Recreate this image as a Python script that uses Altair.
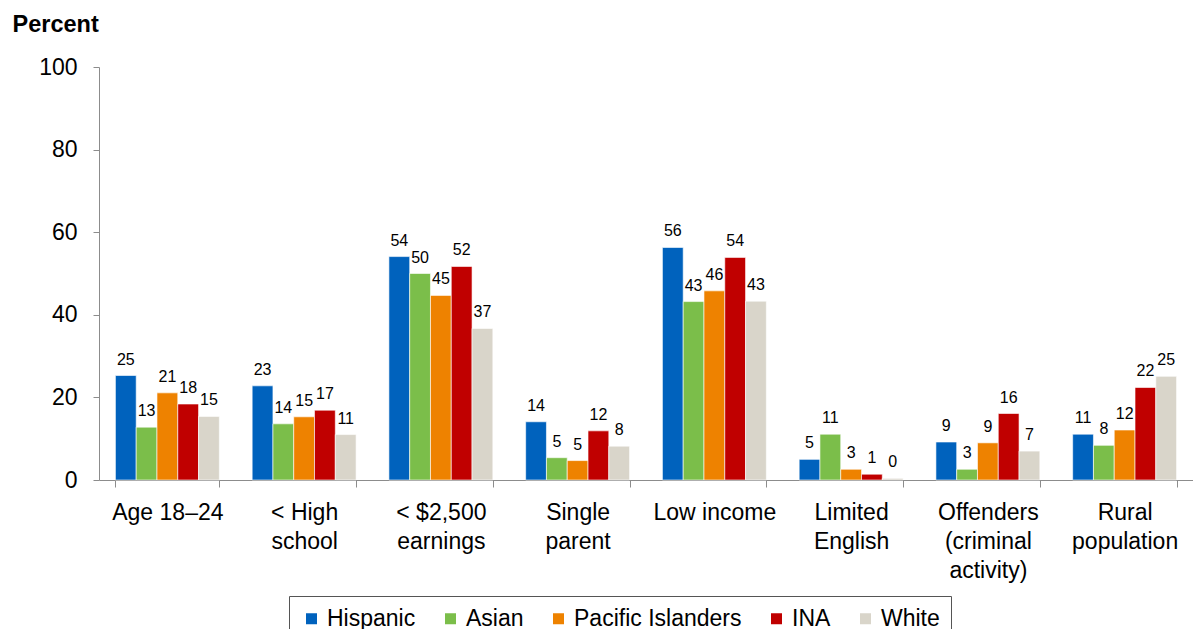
import altair as alt
import pandas as pd

categories = [
    "Age 18–24",
    "< High\nschool",
    "< $2,500\nearnings",
    "Single\nparent",
    "Low income",
    "Limited\nEnglish",
    "Offenders\n(criminal\nactivity)",
    "Rural\npopulation",
]
series = ["Hispanic", "Asian", "Pacific Islanders", "INA", "White"]
colors = ["#0062BD", "#7BBE4A", "#EE8200", "#C00000", "#D9D5CA"]

hispanic = [25.3, 22.8, 54.1, 14.1, 56.3, 5.0, 9.2, 11.1]
asian = [12.8, 13.6, 50.0, 5.4, 43.2, 11.1, 2.6, 8.4]
pacific = [21.1, 15.3, 44.7, 4.7, 45.8, 2.6, 9.0, 12.1]
ina = [18.4, 16.9, 51.7, 11.9, 53.9, 1.4, 16.1, 22.4]
white = [15.4, 11.0, 36.7, 8.2, 43.3, 0.4, 7.0, 25.1]

y_ticks = [0, 20, 40, 60, 80, 100]

rows = []
for name, vals in zip(series, [hispanic, asian, pacific, ina, white]):
    for c, v in zip(categories, vals):
        rows.append({"category": c, "group": name, "value": v})
df = pd.DataFrame(rows)

FONT = "Liberation Sans"

base = alt.Chart(df).encode(
    x=alt.X(
        "category:N",
        sort=categories,
        scale=alt.Scale(paddingInner=0.24, paddingOuter=0.12),
        axis=alt.Axis(
            title=None,
            labelAngle=0,
            labelExpr="split(datum.label, '\\n')",
            labelFontSize=23,
            labelLineHeight=29,
            labelPadding=14,
            labelFont=FONT,
            labelColor="black",
            labelLimit=0,
            tickBand="extent",
            tickSize=7,
            tickColor="#8c8c8c",
            domainColor="#8c8c8c",
            labelBaseline="top",
        ),
    ),
    xOffset=alt.XOffset("group:N", sort=series, scale=alt.Scale(paddingInner=0, paddingOuter=0)),
    y=alt.Y(
        "value:Q",
        scale=alt.Scale(domain=[0, 100], nice=False),
        axis=alt.Axis(
            values=y_ticks,
            grid=False,
            tickSize=6,
            tickColor="#8c8c8c",
            domainColor="#8c8c8c",
            labelPadding=16,
            labelFontSize=23,
            labelFont=FONT,
            labelColor="black",
            title="Percent",
            titleAngle=0,
            titleAlign="left",
            titleBaseline="alphabetic",
            titleX=-87,
            titleY=-36,
            titleFontSize=23.5,
            titleFontWeight="bold",
            titleFont=FONT,
            titleColor="black",
        ),
    ),
)

bars = base.mark_bar(stroke="white", strokeWidth=1, strokeOpacity=0.6).encode(
    color=alt.Color(
        "group:N",
        sort=series,
        scale=alt.Scale(domain=series, range=colors),
        legend=alt.Legend(
            title=None,
            orient="none",
            direction="horizontal",
            legendX=190,
            legendY=529,
            strokeColor="#555555",
            padding=11,
            symbolType="square",
            symbolSize=121,
            symbolStrokeWidth=0,
            labelFontSize=23,
            labelFont=FONT,
            labelColor="black",
            labelOffset=4,
            columnPadding=23,
            labelLimit=0,
        ),
    )
)

labels = base.mark_text(dy=-11, baseline="alphabetic", fontSize=16, font=FONT, color="black").encode(
    text=alt.Text("value:Q", format=".0f")
)

chart = (
    alt.layer(bars, labels)
    .properties(
        width=1094,
        height=413,
        autosize=alt.AutoSizeParams(type="none"),
        padding={"left": 99, "top": 67, "right": 0, "bottom": 149},
    )
    .configure_view(stroke=None)
)

chart.save("out.html", embed_options={"renderer": "svg", "actions": False})
